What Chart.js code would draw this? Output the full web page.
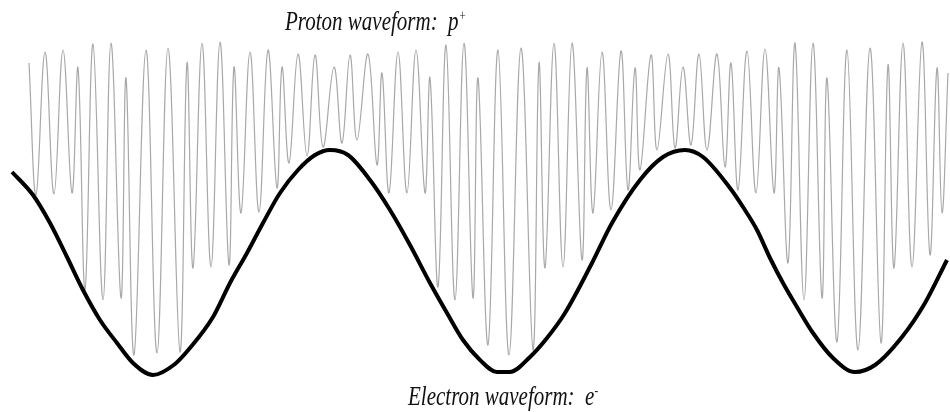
<!DOCTYPE html>
<html lang="en">
<head>
  <meta charset="UTF-8" />
  <title>Proton and electron waveforms</title>
  <script src="https://cdn.jsdelivr.net/npm/chart.js"></script>
  <style>
    * { box-sizing: border-box; margin: 0; padding: 0; }
    body { background: #fff; }
    #wrap { position: relative; width: 950px; height: 412px; }
    .lbl {
      position: absolute;
      font: italic 21px "Liberation Serif", "DejaVu Serif", serif;
      line-height: 1;
      color: #111;
      white-space: nowrap;
      transform: scaleY(1.25);
      transform-origin: 0 17.6px;
    }
    .lbl sup { font-size: 11px; vertical-align: 8px; }
  </style>
</head>
<body>
  <div id="wrap">
    <canvas id="waves"></canvas>
    <div class="lbl" style="left:285px; top:13px">Proton waveform:&nbsp; p<sup>+</sup></div>
    <div class="lbl" style="left:408px; top:388px">Electron waveform:&nbsp; e<sup>-</sup></div>
  </div>

  <script>
    // proton trace: alternating crest / trough values
    const protonT = [29,36,45,54,63,72,78,85,93,103,111,121,126,134,146,157,168,180,187,193,
      202,211,220,229,234,241,250,259,268,277,282,289,298,307,315,323,334,342,350,357,
      368,377,382,389,398,407,416,425,430,438,446,455,464,473,478,488,498,509,521,533,
      539,545,554,563,572,582,587,593,602,611,621,628,635,640,651,657,668,675,683,691,
      699,707,717,725,731,738,747,756,765,774,779,788,795,804,813,822,827,837,847,858,
      870,881,888,894,903,912,922,930,937,942,948];
    const protonAmp = [143,11,154,12,156,13,138,-84,162,-94,163,-92,128,-149,156,-147,158,-146,143,-62,
      163,-61,164,-59,139,-7,154,-6,156,18,139,43,152,50,151,59,139,63,151,66,
      152,41,133,13,154,13,156,13,128,-81,161,-94,163,-92,128,-139,156,-149,158,-144,
      143,-62,163,-61,163,-54,138,-7,154,-4,155,16,138,36,151,56,152,58,139,61,
      152,56,152,39,143,16,155,13,157,13,138,-57,163,-94,163,-92,128,-136,156,-144,
      158,-137,141,-62,163,-61,164,-49,138,-7,133];

    // electron trace: slow wave
    const electronT = [12,33,50,67,83,100,117,133,153,175,190,213,230,247,263,280,298,315,330,348,
      370,390,410,430,447,463,480,497,510,530,547,565,592,612,640,663,685,703,730,743,
      757,770,783,797,813,833,855,875,902,925,947];
    const electronAmp = [34,11,-17,-51,-84,-114,-137,-157,-169,-158,-142,-111,-77,-47,-17,13,36,51,56,51,
      26,-4,-39,-77,-107,-134,-154,-166,-166,-151,-132,-107,-57,-17,26,49,56,49,18,-1,
      -24,-52,-77,-101,-127,-152,-166,-159,-131,-97,-54];

    const toPts = (xs, ys) => xs.map((x, i) => ({ x: x, y: ys[i] }));

    new Chart(document.getElementById("waves"), {
      type: "scatter",
      data: {
        datasets: [
          {
            label: "Electron waveform",
            data: toPts(electronT, electronAmp),
            showLine: true,
            borderColor: "#000",
            borderWidth: 4,
            pointRadius: 0,
            cubicInterpolationMode: "monotone",
            clip: false,
            order: 0
          },
          {
            label: "Proton waveform",
            data: toPts(protonT, protonAmp),
            showLine: true,
            borderColor: "#a8a8a8",
            borderWidth: 1.2,
            pointRadius: 0,
            tension: 0.4,
            clip: false,
            order: 1
          }
        ]
      },
      options: {
        responsive: true,
        maintainAspectRatio: false,
        animation: false,
        layout: { padding: 0 },
        plugins: { legend: { display: false }, tooltip: { enabled: false } },
        scales: {
          x: { type: "linear", min: 0, max: 950, display: false },
          y: { min: -206, max: 206, display: false }
        }
      }
    });
  </script>
</body>
</html>
